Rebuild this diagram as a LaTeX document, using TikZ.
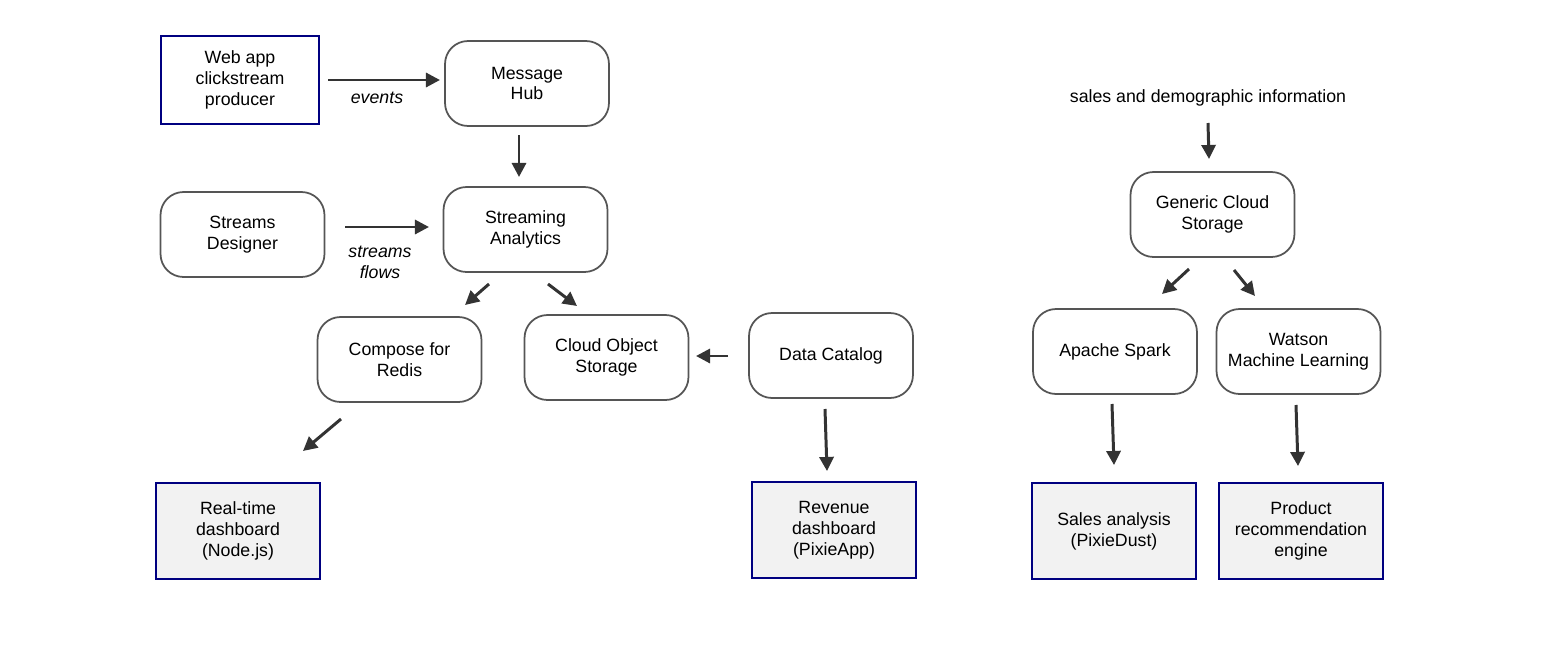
\documentclass[tikz,border=0pt]{standalone}
\usepackage{fontspec}
\setmainfont{Liberation Sans}
\usetikzlibrary{arrows.meta}
\definecolor{boxline}{HTML}{555555}
\definecolor{navyline}{HTML}{000080}
\definecolor{outfill}{HTML}{F2F2F2}
\definecolor{arrowgray}{HTML}{333333}
\begin{document}
\begin{tikzpicture}[x=0.02cm, y=-0.02cm,
    every node/.style={font=\fontsize{10.1}{11.9}\selectfont, align=center},
    service/.style={draw=boxline, line width=1pt, rounded corners=0.46cm, fill=white,
      minimum width=3.28cm, minimum height=1.7cm},
    source/.style={draw=navyline, line width=1.1pt, fill=white,
      minimum width=3.16cm, minimum height=1.76cm},
    result/.style={draw=navyline, line width=1.1pt, fill=outfill,
      minimum width=3.28cm, minimum height=1.92cm},
    lbl/.style={font=\itshape\fontsize{10.1}{11.9}\selectfont},
    arr/.style={draw=arrowgray, line width=1.7pt, -{Triangle[length=8pt,width=8pt]}}]
  \useasboundingbox (0,0) rectangle (1553,656);

  % Streaming part
  \node[source] (web) at (240,80) {Web app\\clickstream\\producer};
  \node[service] (hub) at (527,83.5) {Message\\Hub};
  \node[service] (designer) at (242.5,234.5) {Streams\\Designer};
  \node[service] (analytics) at (525.5,229.5) {Streaming\\Analytics};
  \node[service] (redis) at (399.5,359.5) {Compose for\\Redis};
  \node[service] (cos) at (606.5,357.5) {Cloud Object\\Storage};
  \node[service] (catalog) at (831,355.5) {Data Catalog};
  \node[result] (realtime) at (238,531) {Real-time\\dashboard\\(Node.js)};
  \node[result] (revenue) at (834,530) {Revenue\\dashboard\\(PixieApp)};

  % Labels of the arrows
  \node[lbl] (events) at (377,98) {events};
  \node[lbl] (flows) at (380,262.5) {streams\\flows};

  % Batch part
  \node (salesinfo) at (1208,98) {sales and demographic information};
  \node[service] (generic) at (1212.5,214.5) {Generic Cloud\\Storage};
  \node[service] (spark) at (1115,351.5) {Apache Spark};
  \node[service] (watson) at (1298.5,351.5) {Watson\\Machine Learning};
  \node[result] (salesan) at (1114,531) {Sales analysis\\(PixieDust)};
  \node[result] (product) at (1301,531) {Product\\recommendation\\engine};

  % Ends of the arrows
  \coordinate (ev1) at (328,80);      \coordinate (ev2) at (440,80);
  \coordinate (hb1) at (519,135);     \coordinate (hb2) at (519,177);
  \coordinate (sf1) at (345,227);     \coordinate (sf2) at (429,227);
  \coordinate (rd1) at (489,284);     \coordinate (rd2) at (465,305);
  \coordinate (co1) at (548,284);     \coordinate (co2) at (577,306);
  \coordinate (dc1) at (728,356);     \coordinate (dc2) at (696,356);
  \coordinate (rt1) at (341,419);     \coordinate (rt2) at (303,451);
  \coordinate (rv1) at (825,409);     \coordinate (rv2) at (827,471);
  \coordinate (si1) at (1208,123);    \coordinate (si2) at (1209,159);
  \coordinate (sp1) at (1189,269);    \coordinate (sp2) at (1162,294);
  \coordinate (wa1) at (1234,270);    \coordinate (wa2) at (1255,296);
  \coordinate (sa1) at (1112,404);    \coordinate (sa2) at (1114,465);
  \coordinate (pr1) at (1296,405);    \coordinate (pr2) at (1298,466);

  % Arrows
  \draw[arr] (ev1) -- (ev2);
  \draw[arr] (hb1) -- (hb2);
  \draw[arr] (sf1) -- (sf2);
  \draw[arr] (rd1) -- (rd2);
  \draw[arr] (co1) -- (co2);
  \draw[arr] (dc1) -- (dc2);
  \draw[arr] (rt1) -- (rt2);
  \draw[arr] (rv1) -- (rv2);
  \draw[arr] (si1) -- (si2);
  \draw[arr] (sp1) -- (sp2);
  \draw[arr] (wa1) -- (wa2);
  \draw[arr] (sa1) -- (sa2);
  \draw[arr] (pr1) -- (pr2);
\end{tikzpicture}
\end{document}
